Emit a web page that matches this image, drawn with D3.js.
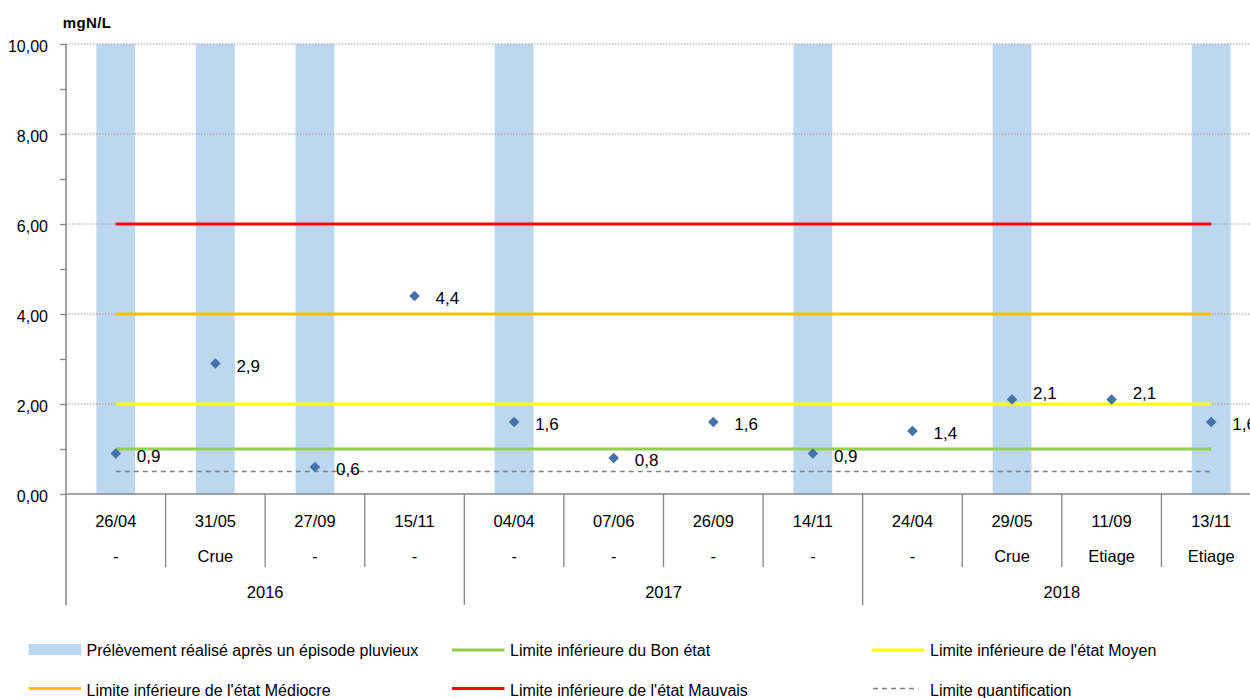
<!DOCTYPE html>
<html>
<head>
<meta charset="utf-8">
<script src="https://cdn.jsdelivr.net/npm/d3@7"></script>
<style>
  html, body { margin: 0; padding: 0; background: #fff; }
  svg { display: block; font-family: "Liberation Sans", Arial, sans-serif; }
</style>
</head>
<body>
<svg id="chart" width="1250" height="698"></svg>
<script>
// Sampling campaign: dates, conditions, years
const dates = ["26/04", "31/05", "27/09", "15/11", "04/04", "07/06", "26/09", "14/11", "24/04", "29/05", "11/09", "13/11"];
const conditions = ["-", "Crue", "-", "-", "-", "-", "-", "-", "-", "Crue", "Etiage", "Etiage"];
const years = ["2016", "2016", "2016", "2016", "2017", "2017", "2017", "2017", "2018", "2018", "2018", "2018"];
// Measured concentration (mgN/L)
const values = [0.9, 2.9, 0.6, 4.4, 1.6, 0.8, 1.6, 0.9, 1.4, 2.1, 2.1, 1.6];
// 1 = sample taken after a rain episode
const rainFlags = [1, 1, 1, 0, 1, 0, 0, 1, 0, 1, 0, 1];
// Quality class thresholds
const thresholdNames = ["Limite inférieure du Bon état", "Limite inférieure de l'état Moyen", "Limite inférieure de l'état Médiocre", "Limite inférieure de l'état Mauvais"];
const thresholdValues = [1, 2, 4, 6];
const thresholdColors = ["#92D050", "#FFFF00", "#FFC000", "#FF0000"];
const quantLimit = 0.5;
const yTicks = [0, 2, 4, 6, 8, 10];
const yMinorTicks = [1, 3, 5, 7, 9];

(function draw() {
  const svg = d3.select("#chart");
  const mLeft = 66, mRight = 1261, mTop = 44, mBottom = 494;
  const axisColor = "#868686";
  const fmt = v => d3.format(".2f")(v).replace(".", ",");
  const fmt1 = v => d3.format(".1f")(v).replace(".", ",");

  const x = d3.scaleBand().domain(d3.range(dates.length)).range([mLeft, mRight]).padding(0);
  const y = d3.scaleLinear().domain([0, 10]).range([mBottom, mTop]);
  const cx = i => x(i) + x.bandwidth() / 2;

  // Rain-episode bars spanning the full height
  const barW = x.bandwidth() * 0.39;
  svg.append("g").selectAll("rect")
    .data(d3.range(dates.length).filter(i => rainFlags[i]))
    .join("rect")
    .attr("x", i => cx(i) - barW / 2)
    .attr("y", y(10))
    .attr("width", barW)
    .attr("height", y(0) - y(10))
    .attr("fill", "#BDD7EE");

  // Dotted gridlines
  svg.append("g").selectAll("line")
    .data(yTicks.filter(t => t > 0))
    .join("line")
    .attr("x1", mLeft).attr("x2", mRight)
    .attr("y1", d => y(d)).attr("y2", d => y(d))
    .attr("stroke", "#9a9a9a").attr("stroke-width", 1)
    .attr("stroke-dasharray", "1.5,1.5");

  // Y axis with major and minor ticks
  const yAxis = d3.axisLeft(y).tickValues(yTicks).tickFormat(fmt).tickSize(6).tickPadding(12);
  const gy = svg.append("g").attr("transform", `translate(${mLeft},0)`).call(yAxis);
  gy.select(".domain").remove();
  gy.selectAll(".tick line").attr("stroke", axisColor).attr("stroke-width", 1.3);
  gy.selectAll(".tick text").attr("font-size", 16).attr("fill", "#000").attr("dy", "0.46em")
    .attr("font-family", "'Liberation Sans', Arial, sans-serif");
  const yMinor = d3.axisLeft(y).tickValues(yMinorTicks).tickFormat("").tickSize(6);
  const gyMinor = svg.append("g").attr("transform", `translate(${mLeft},0)`).call(yMinor);
  gyMinor.select(".domain").remove();
  gyMinor.selectAll(".tick line").attr("stroke", axisColor).attr("stroke-width", 1.3);

  svg.append("line").attr("x1", mLeft).attr("x2", mLeft).attr("y1", mTop).attr("y2", 605)
    .attr("stroke", axisColor).attr("stroke-width", 1.5);

  // Unit label
  svg.append("text").attr("x", 87).attr("y", 28).attr("text-anchor", "middle")
    .attr("font-size", 15).attr("font-weight", "bold").attr("letter-spacing", 0.4).text("mgN/L");

  // Quantification limit and quality thresholds
  const x1 = cx(0), x2 = cx(dates.length - 1);
  svg.append("line").attr("x1", x1).attr("x2", x2).attr("y1", y(quantLimit)).attr("y2", y(quantLimit))
    .attr("stroke", "#808080").attr("stroke-width", 1.3).attr("stroke-dasharray", "5,4");
  svg.append("g").selectAll("line")
    .data(thresholdValues)
    .join("line")
    .attr("x1", x1).attr("x2", x2)
    .attr("y1", d => y(d)).attr("y2", d => y(d))
    .attr("stroke", (d, i) => thresholdColors[i]).attr("stroke-width", 3);

  // X axis baseline
  svg.append("line").attr("x1", mLeft).attr("x2", mRight).attr("y1", mBottom).attr("y2", mBottom)
    .attr("stroke", axisColor).attr("stroke-width", 1.5);

  // Multi-level category axis: separators, dates, conditions, years
  const gx = svg.append("g");
  d3.range(1, dates.length).forEach(i => {
    const yearBreak = years[i] !== years[i - 1];
    gx.append("line").attr("x1", x(i)).attr("x2", x(i))
      .attr("y1", mBottom).attr("y2", yearBreak ? 605 : 567)
      .attr("stroke", axisColor).attr("stroke-width", 1.3);
  });
  gx.selectAll("text.date").data(dates).join("text").attr("class", "date")
    .attr("x", (d, i) => cx(i)).attr("y", 527).attr("text-anchor", "middle")
    .attr("font-size", 16.5).text(d => d);
  gx.selectAll("text.cond").data(conditions).join("text").attr("class", "cond")
    .attr("x", (d, i) => cx(i)).attr("y", 562).attr("text-anchor", "middle")
    .attr("font-size", 16.5).text(d => d);
  const yearGroups = d3.groups(d3.range(dates.length), i => years[i]);
  gx.selectAll("text.year").data(yearGroups).join("text").attr("class", "year")
    .attr("x", d => (x(d[1][0]) + x(d[1][d[1].length - 1]) + x.bandwidth()) / 2)
    .attr("y", 598).attr("text-anchor", "middle").attr("font-size", 16.5).text(d => d[0]);

  // Measured points (diamonds)
  const diamond = d3.symbol().type(d3.symbolSquare).size(56);
  svg.append("g").selectAll("path")
    .data(values)
    .join("path")
    .attr("d", diamond)
    .attr("transform", (d, i) => `translate(${cx(i)},${y(d)}) rotate(45)`)
    .attr("fill", "#4472A8");

  // Value labels, lifted above a threshold line when they would sit across it
  const labelBaseline = v => {
    let b = y(v) + 8;
    thresholdValues.forEach(t => {
      const ly = y(t);
      if (ly > b - 12 && ly < b) b = ly - 5;
    });
    return b;
  };
  svg.append("g").selectAll("text")
    .data(values)
    .join("text")
    .attr("x", (d, i) => cx(i) + 21)
    .attr("y", d => labelBaseline(d))
    .attr("font-size", 17)
    .text(d => fmt1(d));

  // Legend
  const legend = svg.append("g");
  const colX = [28.5, 452, 872];
  const rowY = [650, 688.5];
  const legendItems = [
    { type: "rect", color: "#BDD7EE", label: "Prélèvement réalisé après un épisode pluvieux", col: 0, row: 0 },
    { type: "line", color: thresholdColors[0], label: thresholdNames[0], col: 1, row: 0 },
    { type: "line", color: thresholdColors[1], label: thresholdNames[1], col: 2, row: 0 },
    { type: "line", color: thresholdColors[2], label: thresholdNames[2], col: 0, row: 1 },
    { type: "line", color: thresholdColors[3], label: thresholdNames[3], col: 1, row: 1 },
    { type: "dash", color: "#808080", label: "Limite quantification", col: 2, row: 1 }
  ];
  const symW = 52.5;
  legendItems.forEach(it => {
    const lx = colX[it.col], ly = rowY[it.row];
    if (it.type === "rect") {
      legend.append("rect").attr("x", lx).attr("y", ly - 6).attr("width", symW).attr("height", 11).attr("fill", it.color);
    } else if (it.type === "line") {
      legend.append("line").attr("x1", lx).attr("x2", lx + symW).attr("y1", ly).attr("y2", ly)
        .attr("stroke", it.color).attr("stroke-width", 3);
    } else {
      legend.append("line").attr("x1", lx + 1).attr("x2", lx + symW - 6).attr("y1", ly).attr("y2", ly)
        .attr("stroke", it.color).attr("stroke-width", 1.3).attr("stroke-dasharray", "5,4");
    }
    legend.append("text").attr("x", lx + symW + 5.5).attr("y", ly + (it.row === 0 ? 6 : 7))
      .attr("font-size", 16).text(it.label);
  });
})();
</script>
</body>
</html>
